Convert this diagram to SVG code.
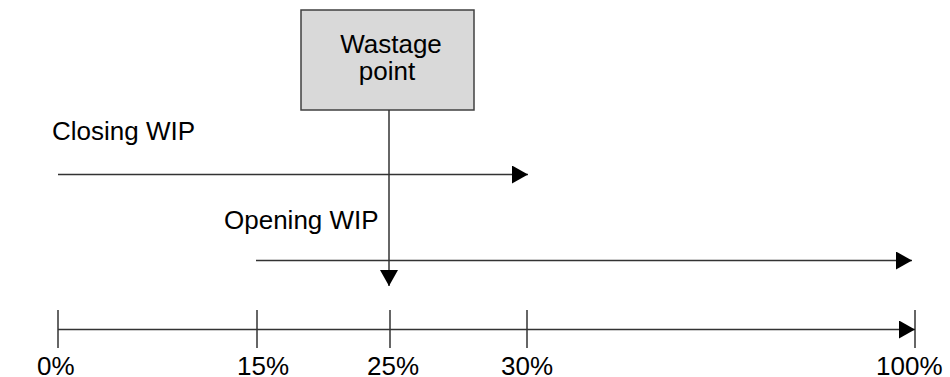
<svg xmlns="http://www.w3.org/2000/svg" width="950" height="377" viewBox="0 0 950 377">
<defs>
<style>
text{font-family:"Liberation Sans",Arial,sans-serif;font-size:26px;fill:#000}
.ln{stroke:#333;stroke-width:1.5;fill:none}
.tick{stroke:#333;stroke-width:1.5}
</style>
<marker id="ah" markerWidth="16" markerHeight="18" refX="16" refY="9" orient="auto" markerUnits="userSpaceOnUse">
<path d="M0,0 L16,9 L0,18 Z" fill="#000"/>
</marker>
</defs>
<rect width="950" height="377" fill="#fff"/>
<g id="wastage-point">
<rect x="301" y="10" width="173" height="100" fill="#d9d9d9" stroke="#404040" stroke-width="1.5"/>
<text x="391" y="53" text-anchor="middle">Wastage</text>
<text x="387" y="80" text-anchor="middle">point</text>
</g>
<g id="closing-wip"><text x="52" y="140">Closing WIP</text></g>
<g id="opening-wip"><text x="224" y="229">Opening WIP</text></g>
<g id="axis">
<line class="tick" x1="58" y1="310" x2="58" y2="348"/>
<line class="tick" x1="257" y1="310" x2="257" y2="348"/>
<line class="tick" x1="390" y1="310" x2="390" y2="348"/>
<line class="tick" x1="527" y1="310" x2="527" y2="348"/>
<line class="tick" x1="915" y1="310" x2="915" y2="348"/>
<text x="37" y="375">0%</text>
<text x="237" y="375">15%</text>
<text x="367" y="375">25%</text>
<text x="501" y="375">30%</text>
<text x="876" y="375">100%</text>
</g>
<g id="connectors">
<line class="ln" x1="58" y1="174.5" x2="528" y2="174.5" marker-end="url(#ah)"/>
<line class="ln" x1="256" y1="260.5" x2="912" y2="260.5" marker-end="url(#ah)"/>
<line class="ln" x1="58" y1="329.5" x2="915" y2="329.5" marker-end="url(#ah)"/>
<line class="ln" x1="389" y1="110" x2="389" y2="286" marker-end="url(#ah)"/>
</g>
</svg>
